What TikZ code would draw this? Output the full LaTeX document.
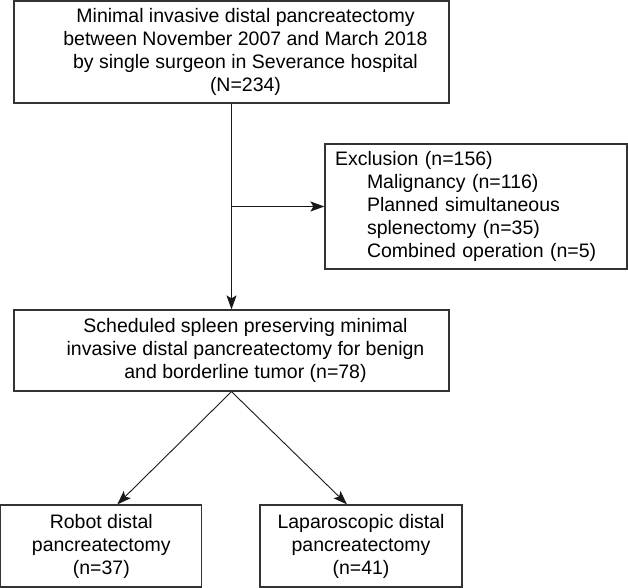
\documentclass[tikz,border=0pt]{standalone}
\usepackage{fontspec}
\setmainfont{Liberation Sans}
\usetikzlibrary{arrows.meta}
\pgfdeclarelayer{bg}
\pgfsetlayers{bg,main}
\tikzset{
    every node/.style={rectangle, draw=black!80, line width=1.2pt, inner sep=0mm, align=center, font=\fontsize{19.5}{23}\selectfont}
}
\tikzset{every edge/.append style={draw=black!90, -{Stealth[length=14pt,width=10pt,inset=3pt]}}}
\newcommand{\offsetlines}[1]{\hspace*{28pt}\begin{tabular}{@{}c@{}}#1\end{tabular}}

\begin{document}
\begin{tikzpicture}
        \useasboundingbox (0pt, 0pt) rectangle (628pt, -587pt);
        \node (top) [minimum width=435pt, minimum height=102pt] at (231.5pt, -52pt) {\offsetlines{Minimal invasive distal pancreatectomy\\between November 2007 and March 2018\\by single surgeon in Severance hospital\\(N=234)}};
        \node (excl) [text width=282pt, inner xsep=10pt, minimum height=125pt, align=left] at (476pt, -206.5pt) {Exclusion (n=156)\\
\hspace*{32pt}Malignancy (n=116)\\
\hspace*{32pt}Planned simultaneous\\
\hspace*{32pt}splenectomy (n=35)\\
\hspace*{32pt}Combined operation (n=5)};
        \node (mid) [minimum width=435pt, minimum height=81pt] at (231.5pt, -350.5pt) {\offsetlines{Scheduled spleen preserving minimal\\invasive distal pancreatectomy for benign\\and borderline tumor (n=78)}};
        \node (robot) [minimum width=201pt, minimum height=82pt] at (101.3pt, -546pt) {Robot distal\\pancreatectomy\\(n=37)};
        \node (lap) [minimum width=202pt, minimum height=82pt] at (361pt, -546pt) {Laparoscopic distal\\pancreatectomy\\(n=41)};
        \coordinate (split) at (top.south |- excl.west);
        \begin{pgfonlayer}{bg}
                \draw (top) edge [line width=1.2pt] (mid);
                \draw (split) edge [line width=1.2pt] (excl.west);
                \draw (mid.south) edge [line width=0.9pt] ([xshift=16pt]robot.north);
                \draw (mid.south) edge [line width=0.9pt] ([xshift=-14pt]lap.north);
        \end{pgfonlayer}
\end{tikzpicture}
\end{document}
